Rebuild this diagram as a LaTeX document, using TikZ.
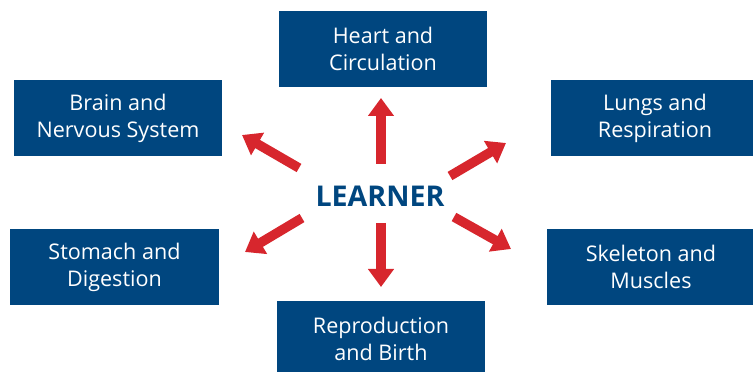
\documentclass[tikz,border=0pt]{standalone}
\usepackage{fontspec}
\setsansfont{Open Sans}
\usepackage{tikz}
\usetikzlibrary{arrows.meta}
\definecolor{organblue}{RGB}{0,70,127}
\definecolor{arrowred}{RGB}{215,38,45}
\tikzset{organ/.style={fill=organblue, text=white, minimum width=6.24cm, minimum height=2.28cm, align=center, inner sep=0pt, font=\sffamily\fontsize{18.4}{23}\selectfont}}

\begin{document}
\begin{tikzpicture}[x=0.03cm, y=-0.03cm]
        \useasboundingbox (0,0) rectangle (753,372);
        \node [organ] (heart) at (383,49) {Heart and\\Circulation};
        \node [organ] (brain) at (118,118) {Brain and\\Nervous System};
        \node [organ] (lungs) at (655,118) {Lungs and\\Respiration};
        \node [organ] (stomach) at (114.5,267) {Stomach and\\Digestion};
        \node [organ] (skeleton) at (651,267) {Skeleton and\\Muscles};
        \node [organ] (birth) at (381,339) {Reproduction\\and Birth};
        \node [text=organblue, font=\sffamily\bfseries\fontsize{24.4}{28}\selectfont] (learner) at (380,196) {LEARNER};
        \coordinate (up0) at (381,164);     \coordinate (up1) at (381,98);
        \coordinate (down0) at (381,223);   \coordinate (down1) at (381,287);
        \coordinate (ul0) at (299,168);     \coordinate (ul1) at (242,135);
        \coordinate (ur0) at (450,176);     \coordinate (ur1) at (506,143);
        \coordinate (dl0) at (302,218);     \coordinate (dl1) at (245,252);
        \coordinate (dr0) at (454,217);     \coordinate (dr1) at (511,249);
        \tikzset{arrows={-Triangle[length=0.54cm, width=0.75cm]}}
        \draw [arrowred, line width=0.285cm] (up0) -- (up1);
        \draw [arrowred, line width=0.285cm] (down0) -- (down1);
        \draw [arrowred, line width=0.285cm] (ul0) -- (ul1);
        \draw [arrowred, line width=0.285cm] (ur0) -- (ur1);
        \draw [arrowred, line width=0.285cm] (dl0) -- (dl1);
        \draw [arrowred, line width=0.285cm] (dr0) -- (dr1);
\end{tikzpicture}
\end{document}
